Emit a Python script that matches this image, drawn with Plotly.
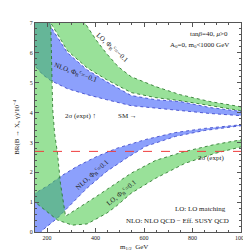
import plotly.graph_objects as go

# ---- data (m_1/2 in GeV, BR in units of 1e-4) ----
# Upper LO band (phi=-0.1)
A_outer_m = [345, 356, 405, 446, 494, 547, 648, 749, 871, 1010]
A_outer_br = [7.3, 7.0, 6.4, 5.97, 5.53, 5.2, 4.87, 4.6, 4.37, 4.18]
A_inner_m = [205, 215, 284, 365, 446, 547, 648, 749, 871, 1010]
A_inner_br = [7.3, 7.0, 6.07, 5.5, 5.1, 4.67, 4.5, 4.4, 4.23, 4.05]

# Upper NLO band (phi=-0.1)
B_upper_m = [140, 200, 215, 284, 365, 446, 547, 648, 749, 871, 1010]
B_upper_br = [7.3, 7.3, 6.87, 6.0, 5.43, 5.03, 4.57, 4.43, 4.37, 4.17, 4.03]
B_lower_m = [140, 150, 182, 215, 284, 365, 446, 547, 648, 749, 871, 1010]
B_lower_br = [5.65, 5.53, 5.27, 5.07, 4.8, 4.6, 4.43, 4.23, 4.13, 4.07, 3.97, 3.89]

# LO band (phi=+0.1), V shaped
C_inner_m = [215, 215, 223, 231, 243, 255, 276, 324, 405, 547, 648, 769, 891, 1010]
C_inner_br = [7.3, 7.0, 4.13, 3.3, 2.63, 1.63, 0.53, 0.77, 1.2, 1.97, 2.4, 2.7, 2.93, 3.1]
C_outer_m = [140, 140, 150, 182, 243, 304, 365, 446, 486, 547, 648, 769, 891, 1010]
C_outer_br = [7.3, 1.1, 1.0, 0.8, 0.4, 0.23, 0.27, 0.63, 0.87, 1.3, 1.8, 2.3, 2.63, 2.87]

# NLO band (phi=+0.1)
E_upper_m = [140, 150, 203, 263, 324, 405, 486, 607, 729, 850, 1010]
E_upper_br = [1.25, 1.3, 1.55, 1.9, 2.2, 2.53, 2.8, 3.1, 3.33, 3.47, 3.6]
E_lower_m = [140, 150, 182, 243, 304, 365, 446, 527, 607, 729, 850, 1010]
E_lower_br = [-0.3, -0.2, 0.07, 0.47, 0.97, 1.47, 2.03, 2.47, 2.87, 3.2, 3.4, 3.57]

expt_low_br = 2.7
x_range = [150, 1000]
y_range = [0, 7]
x_ticks = [200, 400, 600, 800, 1000]
y_ticks = [0, 1, 2, 3, 4, 5, 6, 7]

BLUE = "rgb(140,160,252)"
BLUE_EDGE = "rgb(50,60,200)"
GREEN = "rgba(70,200,70,0.55)"
GREEN_EDGE = "rgb(30,110,30)"


def band(xa, ya, xb, yb, fill, edge):
    xs = list(xa) + list(reversed(xb)) + [xa[0]]
    ys = list(ya) + list(reversed(yb)) + [ya[0]]
    return go.Scatter(x=xs, y=ys, mode="lines", fill="toself", fillcolor=fill,
                      line=dict(color=edge, width=0.8, dash="dot"),
                      hoverinfo="skip", showlegend=False)


fig = go.Figure()
fig.add_trace(band(B_upper_m, B_upper_br, B_lower_m, B_lower_br, BLUE, BLUE_EDGE))
fig.add_trace(band(E_upper_m, E_upper_br, E_lower_m, E_lower_br, BLUE, BLUE_EDGE))
fig.add_trace(band(A_outer_m, A_outer_br, A_inner_m, A_inner_br, GREEN, GREEN_EDGE))
fig.add_trace(band(C_inner_m, C_inner_br, C_outer_m, C_outer_br, GREEN, GREEN_EDGE))
fig.add_trace(go.Scatter(x=x_range, y=[expt_low_br, expt_low_br], mode="lines",
                         line=dict(color="rgb(240,60,60)", width=1, dash="dash"),
                         hoverinfo="skip", showlegend=False))

F = "Liberation Serif"
C = "#222"


def ann(text, x, y, size=7, angle=0, xanchor="center"):
    fig.add_annotation(text=text, x=x, y=y, xref="paper", yref="paper",
                       showarrow=False, textangle=angle, xanchor=xanchor,
                       yanchor="middle", font=dict(family=F, size=size, color=C))


def px(x):
    return (x - 27) / 210


def py(y):
    return (224 - y) / 210


ann("tan<i>β</i>=40, <i>μ</i>&gt;0", px(226), py(25), xanchor="right")
ann("A<sub>0</sub>=0, m<sub>0</sub>&lt;1000 GeV", px(227), py(36), xanchor="right")
ann("LO, Φ<sub>B</sub><sup>c</sup>=−0.1", px(106), py(39), angle=42)
ann("NLO, Φ<sub>B</sub><sup>c</sup>=−0.1", px(69), py(64), angle=20)
ann("2σ (expt) ↑", px(73), py(107))
ann("SM →", px(121), py(107))
ann("NLO, Φ<sub>B</sub><sup>c</sup>=0.1", px(85), py(166), angle=-42)
ann("LO, Φ<sub>B</sub><sup>c</sup>=0.1", px(115), py(184), angle=-40)
ann("2σ (expt)", px(206), py(150))
ann("LO: LO matching", px(224), py(201), xanchor="right")
ann("NLO: NLO QCD − Eff. SUSY QCD", px(227), py(213), xanchor="right")
ann("m<sub>1/2</sub>  GeV", px(128), py(239))
ann("BR(B → X<sub>s</sub> γ)/10<sup>−4</sup>", px(8), py(118), angle=-90)

axis_common = dict(showline=True, linecolor="#555", linewidth=1, mirror="allticks",
                   ticks="inside", ticklen=4, tickcolor="#555", showgrid=False,
                   zeroline=False, tickfont=dict(family=F, size=6, color=C))
fig.update_xaxes(range=x_range, tickvals=x_ticks, **axis_common,
                 minor=dict(dtick=50, ticks="inside", ticklen=2, tickcolor="#555"))
fig.update_yaxes(range=y_range, tickvals=y_ticks, **axis_common,
                 minor=dict(dtick=0.2, ticks="inside", ticklen=2, tickcolor="#555"))
fig.update_layout(width=251, height=251, margin=dict(l=27, r=14, t=14, b=27),
                  plot_bgcolor="white", paper_bgcolor="white", showlegend=False)
fig.write_html("out.html")
